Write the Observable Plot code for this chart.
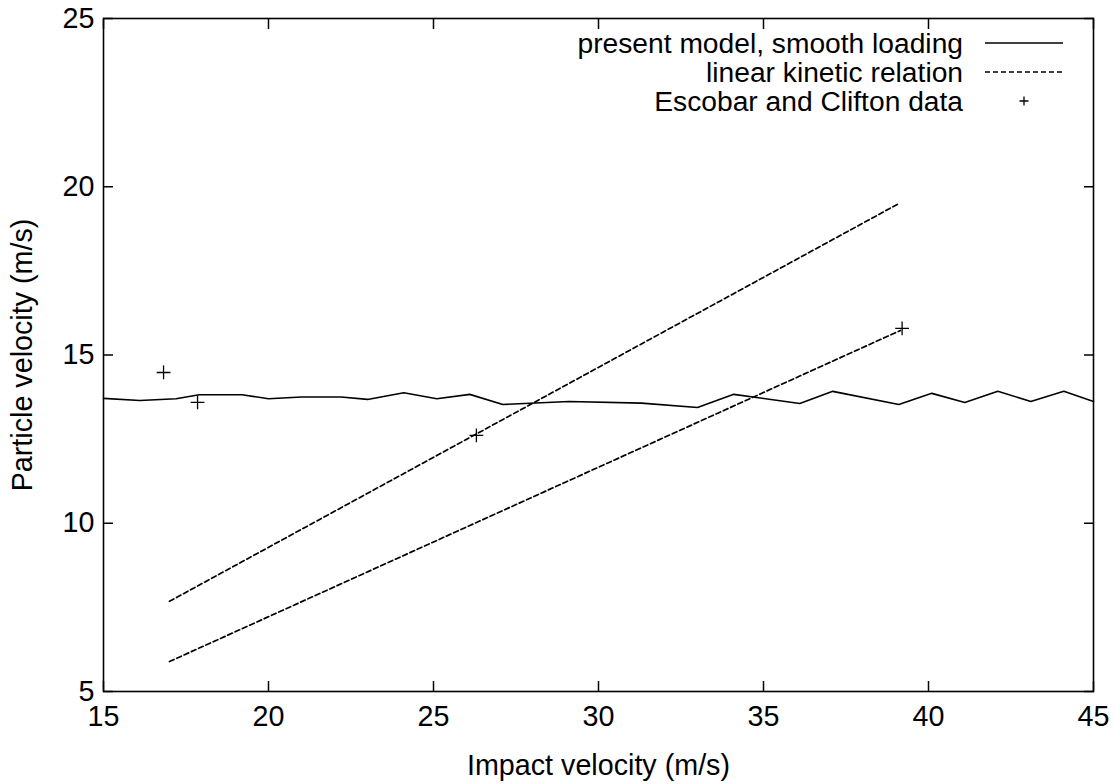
<!DOCTYPE html>
<html>
<head>
<meta charset="utf-8">
<script src="https://cdn.jsdelivr.net/npm/d3@7"></script>
<script src="https://cdn.jsdelivr.net/npm/@observablehq/plot@0.6"></script>
<style>
  html, body { margin: 0; padding: 0; background: white; }
  #wrap { position: relative; width: 1114px; height: 784px; }
  #legend { position: absolute; left: 0; top: 0; pointer-events: none; }
</style>
</head>
<body>
<div id="wrap"></div>
<script>
// ---- data ----
const xTicks = [15, 20, 25, 30, 35, 40, 45];
const yTicks = [5, 10, 15, 20, 25];

// present model, smooth loading (vertices of the solid curve)
const modelX = [15, 16.1, 17.2, 17.9, 19.2, 20, 21, 22.2, 23, 24.1, 25.1, 26.1, 27.1, 29.1, 31.3, 33, 34.1, 36.1, 37.1, 39.1, 40.1, 41.1, 42.1, 43.1, 44.1, 45];
const modelY = [13.71, 13.65, 13.70, 13.82, 13.82, 13.70, 13.75, 13.75, 13.68, 13.88, 13.70, 13.83, 13.53, 13.62, 13.57, 13.44, 13.83, 13.56, 13.92, 13.53, 13.86, 13.59, 13.92, 13.62, 13.92, 13.62];

// linear kinetic relation (two dashed lines)
const upperX = [17.0, 39.1];
const upperY = [7.68, 19.5];
const lowerX = [17.0, 39.15];
const lowerY = [5.89, 15.73];

// Escobar and Clifton data
const dataX = [16.82, 17.85, 26.3, 39.2];
const dataY = [14.48, 13.59, 12.61, 15.79];

const legendLabels = ["present model, smooth loading", "linear kinetic relation", "Escobar and Clifton data"];
const xLabel = "Impact velocity (m/s)";
const yLabel = "Particle velocity (m/s)";

// ---- tables ----
const model = modelX.map((x, i) => ({x, y: modelY[i]}));
const upper = upperX.map((x, i) => ({x, y: upperY[i]}));
const lower = lowerX.map((x, i) => ({x, y: lowerY[i]}));
const pts = dataX.map((x, i) => ({x, y: dataY[i]}));

const FONT = "'Liberation Sans', Arial, Helvetica, sans-serif";
const FS = 28.7;
const LFS = 28.2;
const blank = () => "";

const chart = Plot.plot({
  width: 1114,
  height: 784,
  marginLeft: 103,
  marginRight: 21,
  marginTop: 18,
  marginBottom: 93,
  x: {domain: [15, 45]},
  y: {domain: [5, 25]},
  style: {fontFamily: FONT, fontSize: FS + "px", background: "white", color: "black"},
  marks: [
    // tick labels
    Plot.axisX(xTicks, {anchor: "bottom", tickSize: 0, tickPadding: 14, fontSize: FS, label: null}),
    Plot.axisY(yTicks, {anchor: "left", tickSize: 0, tickPadding: 9, fontSize: FS, label: null}),
    // inward ticks on all four sides
    Plot.axisX(xTicks, {anchor: "bottom", tickSize: 10, dy: -10, tickFormat: blank, label: null, strokeWidth: 1.5}),
    Plot.axisX(xTicks, {anchor: "top", tickSize: 10, dy: 10, tickFormat: blank, label: null, strokeWidth: 1.5}),
    Plot.axisY(yTicks, {anchor: "left", tickSize: 10, dx: 10, tickFormat: blank, label: null, strokeWidth: 1.5}),
    Plot.axisY(yTicks, {anchor: "right", tickSize: 10, dx: -10, tickFormat: blank, label: null, strokeWidth: 1.5}),
    // axis titles
    Plot.text([xLabel], {frameAnchor: "bottom", textAnchor: "middle", lineAnchor: "top", dy: 63, fontSize: FS, fill: "black"}),
    Plot.text([yLabel], {frameAnchor: "left", textAnchor: "middle", rotate: -90, lineAnchor: "middle", dx: -81, fontSize: FS, fill: "black"}),
    // data
    Plot.line(upper, {x: "x", y: "y", stroke: "black", strokeWidth: 1.7, strokeDasharray: "5,3"}),
    Plot.line(lower, {x: "x", y: "y", stroke: "black", strokeWidth: 1.7, strokeDasharray: "5,3"}),
    Plot.line(model, {x: "x", y: "y", stroke: "black", strokeWidth: 1.6}),
    Plot.dot(pts, {x: "x", y: "y", symbol: "plus", r: 4.5, stroke: "black", strokeWidth: 1.3}),
    Plot.frame({stroke: "black", strokeWidth: 1.6})
  ]
});

const wrap = document.getElementById("wrap");
wrap.appendChild(chart);

// ---- legend (inside the frame, top right) ----
const svg = d3.select(wrap).append("svg")
  .attr("id", "legend")
  .attr("width", 1114)
  .attr("height", 784)
  .style("font-family", FONT)
  .style("font-size", LFS + "px");

const rowY = [43, 72, 101];
const textRight = 963, sx0 = 985, sx1 = 1063;
legendLabels.forEach((lab, i) => {
  svg.append("text")
    .attr("x", textRight).attr("y", rowY[i]).attr("dy", "0.35em")
    .attr("text-anchor", "end").attr("fill", "black").text(lab);
});
svg.append("line").attr("x1", sx0).attr("x2", sx1).attr("y1", rowY[0]).attr("y2", rowY[0])
  .attr("stroke", "black").attr("stroke-width", 1.6);
svg.append("line").attr("x1", sx0).attr("x2", sx1).attr("y1", rowY[1]).attr("y2", rowY[1])
  .attr("stroke", "black").attr("stroke-width", 1.7).attr("stroke-dasharray", "5,3");
const px = (sx0 + sx1) / 2, py = rowY[2];
svg.append("path").attr("d", `M${px - 4.5},${py}h9M${px},${py - 4.5}v9`)
  .attr("stroke", "black").attr("stroke-width", 1.3).attr("fill", "none");
</script>
</body>
</html>
